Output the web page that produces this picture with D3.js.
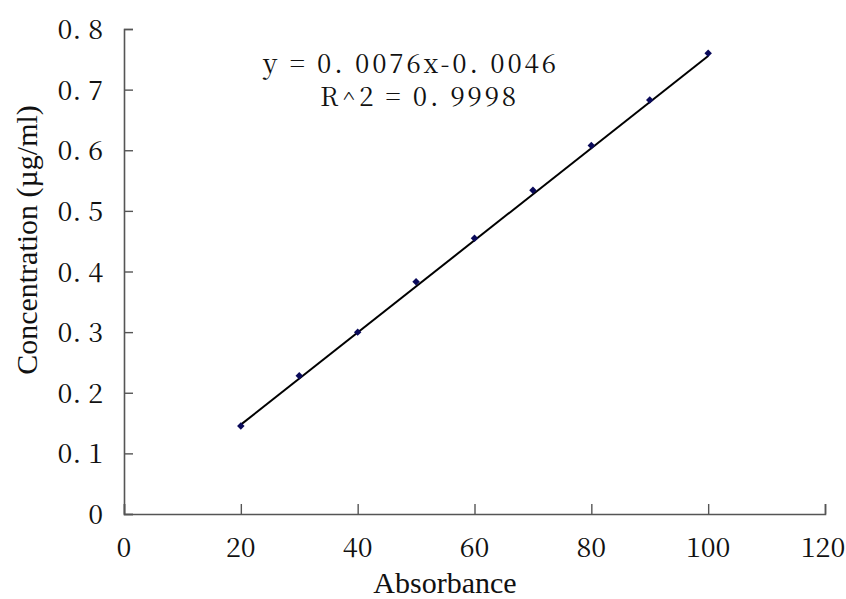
<!DOCTYPE html>
<html>
<head>
<meta charset="utf-8">
<script src="https://cdn.jsdelivr.net/npm/d3@7"></script>
<style>
  body { margin: 0; background: #fff; }
</style>
</head>
<body>
<div id="wrapper"></div>
<script>
// data
const absorbance = [20, 30, 40, 50, 60, 70, 80, 90, 100];
const concentration = [0.145, 0.228, 0.300, 0.383, 0.455, 0.534, 0.608, 0.683, 0.760];
const xTicks = [0, 20, 40, 60, 80, 100, 120];
const yTicks = [0, 0.1, 0.2, 0.3, 0.4, 0.5, 0.6, 0.7, 0.8];
const trendSlope = 0.0076;
const trendIntercept = -0.0046;
const equationLines = ["y = 0. 0076x-0. 0046", "R^2 = 0. 9998"];

const width = 846, height = 599;
const tickFont = '"Noto Serif CJK SC"';
const titleFont = '"Liberation Serif"';

const svg = d3.select("#wrapper")
  .append("svg")
  .attr("width", width)
  .attr("height", height);

const x = d3.scaleLinear().domain([0, 120]).range([124, 825]);
const y = d3.scaleLinear().domain([0, 0.8]).range([514, 29]);

const fmtY = d => d === 0 ? "0" : d3.format(".1f")(d).replace(".", ". ");

// x axis
const xAxis = svg.append("g")
  .attr("transform", `translate(0, ${y(0)})`)
  .call(d3.axisTop(x).tickValues(xTicks).tickSize(10).tickFormat(""));
xAxis.select(".domain").attr("stroke", "#555").attr("stroke-width", 1.6);
xAxis.selectAll(".tick line").attr("stroke", "#555").attr("stroke-width", 1.4);

// last label sits right against the edge, keep it inside
svg.append("g")
  .selectAll("text")
  .data(xTicks)
  .enter()
  .append("text")
  .attr("x", d => Math.min(x(d), width - 23))
  .attr("y", 557)
  .attr("text-anchor", "middle")
  .style("font-family", tickFont)
  .attr("font-size", 27)
  .attr("fill", "#111")
  .text(d => d);

// y axis
const yAxis = svg.append("g")
  .attr("transform", `translate(${x(0)}, 0)`)
  .call(d3.axisRight(y).tickValues(yTicks).tickSize(9).tickFormat(""));
yAxis.select(".domain").attr("stroke", "#555").attr("stroke-width", 1.6);
yAxis.selectAll(".tick line").attr("stroke", "#555").attr("stroke-width", 1.4);

svg.append("g")
  .selectAll("text")
  .data(yTicks)
  .enter()
  .append("text")
  .attr("x", 103)
  .attr("y", d => y(d) + 10)
  .attr("text-anchor", "end")
  .style("font-family", tickFont)
  .attr("font-size", 27)
  .attr("fill", "#111")
  .text(fmtY);

// trend line
const x0 = d3.min(absorbance), x1 = d3.max(absorbance);
svg.append("line")
  .attr("x1", x(x0))
  .attr("y1", y(trendSlope * x0 + trendIntercept))
  .attr("x2", x(x1))
  .attr("y2", y(trendSlope * x1 + trendIntercept))
  .attr("stroke", "#000")
  .attr("stroke-width", 2);

// points
svg.append("g")
  .selectAll("path")
  .data(absorbance.map((a, i) => [a, concentration[i]]))
  .enter()
  .append("path")
  .attr("d", d3.symbol(d3.symbolSquare, 28))
  .attr("transform", d => `translate(${x(d[0])}, ${y(d[1])}) rotate(45)`)
  .attr("fill", "#0a0a5a");

// equation, one text block with two lines
const eq = svg.append("text")
  .style("font-family", tickFont)
  .attr("font-size", 26)
  .attr("fill", "#111");
eq.selectAll("tspan")
  .data(equationLines)
  .enter()
  .append("tspan")
  .attr("x", (d, i) => i === 0 ? 263 : 320)
  .attr("y", (d, i) => 73 + i * 33)
  .attr("textLength", (d, i) => i === 0 ? 293 : 196)
  .attr("lengthAdjust", "spacing")
  .text(d => d);

// axis titles
svg.append("text")
  .attr("x", 445)
  .attr("y", 593)
  .attr("text-anchor", "middle")
  .style("font-family", titleFont)
  .attr("font-size", 30)
  .attr("fill", "#111")
  .text("Absorbance");

svg.append("text")
  .attr("transform", "translate(37, 240) rotate(-90)")
  .attr("text-anchor", "middle")
  .style("font-family", titleFont)
  .attr("font-size", 30)
  .attr("fill", "#111")
  .text("Concentration (µg/ml)");
</script>
</body>
</html>
